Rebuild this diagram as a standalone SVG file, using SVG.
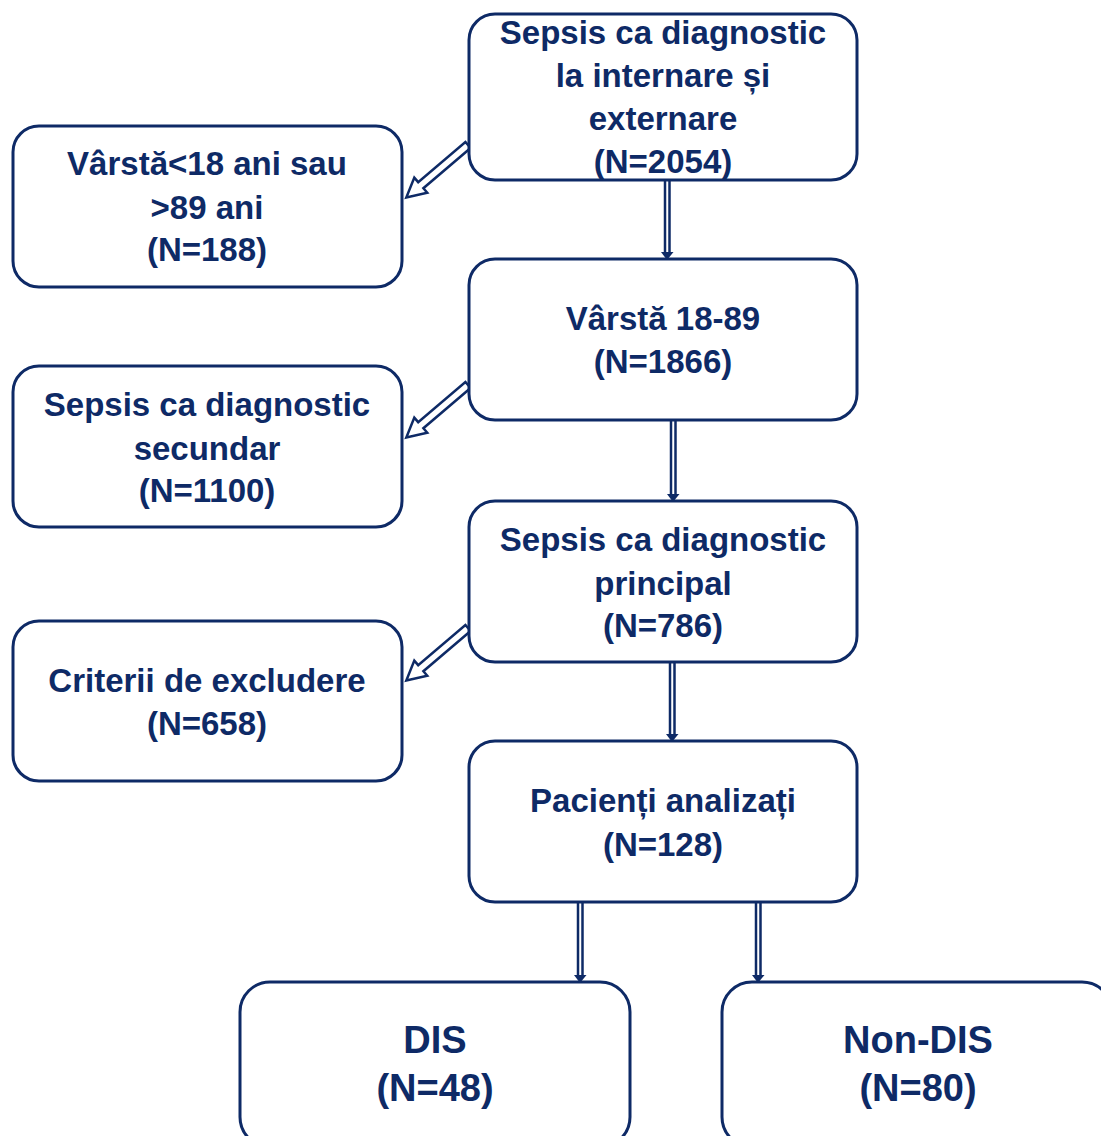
<svg xmlns="http://www.w3.org/2000/svg" width="1101" height="1136" viewBox="0 0 1101 1136">
<style>
.box{fill:#fff;stroke:#0e2a66;stroke-width:3}
.t{font-family:"Liberation Sans",Arial,sans-serif;font-weight:bold;font-size:33px;fill:#0e2a66;text-anchor:middle}
.tb{font-size:38px}
.dl{stroke:#0e2a66;stroke-width:2.5;fill:none}
.tip{fill:#0e2a66}
.ha{fill:#fff;stroke:#0e2a66;stroke-width:2.5;stroke-linejoin:miter}
</style>
<rect width="1101" height="1136" fill="#fff"/>
<g id="connectors">
  <g id="c1"><line class="dl" x1="665" y1="181" x2="665" y2="255"/><line class="dl" x1="669.5" y1="181" x2="669.5" y2="255"/><polygon class="tip" points="661,252 673.5,252 667,260"/></g>
  <g id="c2"><line class="dl" x1="671" y1="421" x2="671" y2="497"/><line class="dl" x1="675.5" y1="421" x2="675.5" y2="497"/><polygon class="tip" points="667,494 679.5,494 673,502"/></g>
  <g id="c3"><line class="dl" x1="670" y1="663" x2="670" y2="737"/><line class="dl" x1="674.5" y1="663" x2="674.5" y2="737"/><polygon class="tip" points="666,734 678.5,734 672,742"/></g>
  <g id="c4"><line class="dl" x1="578" y1="903" x2="578" y2="978"/><line class="dl" x1="582.5" y1="903" x2="582.5" y2="978"/><polygon class="tip" points="574,975 586.5,975 580,983"/></g>
  <g id="c5"><line class="dl" x1="756" y1="903" x2="756" y2="978"/><line class="dl" x1="760.5" y1="903" x2="760.5" y2="978"/><polygon class="tip" points="752,975 764.5,975 758,983"/></g>
  <polygon class="ha" transform="translate(468,145) rotate(139.6)" points="0,-4 62,-4 62,-10 81,0 62,10 62,4 0,4"/>
  <polygon class="ha" transform="translate(468,385) rotate(139.6)" points="0,-4 62,-4 62,-10 81,0 62,10 62,4 0,4"/>
  <polygon class="ha" transform="translate(468,628) rotate(139.6)" points="0,-4 62,-4 62,-10 81,0 62,10 62,4 0,4"/>
</g>
<g id="n1"><rect class="box" x="469" y="14" width="388" height="166" rx="26"/>
<text class="t" x="663" y="44">Sepsis ca diagnostic</text><text class="t" x="663" y="87">la internare și</text><text class="t" x="663" y="130">externare</text><text class="t" x="663" y="173">(N=2054)</text></g>
<g id="x1"><rect class="box" x="13" y="126" width="389" height="161" rx="26"/>
<text class="t" x="207" y="175">Vârstă&lt;18 ani sau</text><text class="t" x="207" y="219">&gt;89 ani</text><text class="t" x="207" y="261">(N=188)</text></g>
<g id="n2"><rect class="box" x="469" y="259" width="388" height="161" rx="26"/>
<text class="t" x="663" y="330">Vârstă 18-89</text><text class="t" x="663" y="373">(N=1866)</text></g>
<g id="x2"><rect class="box" x="13" y="366" width="389" height="161" rx="26"/>
<text class="t" x="207" y="416">Sepsis ca diagnostic</text><text class="t" x="207" y="460">secundar</text><text class="t" x="207" y="502">(N=1100)</text></g>
<g id="n3"><rect class="box" x="469" y="501" width="388" height="161" rx="26"/>
<text class="t" x="663" y="551">Sepsis ca diagnostic</text><text class="t" x="663" y="595">principal</text><text class="t" x="663" y="637">(N=786)</text></g>
<g id="x3"><rect class="box" x="13" y="621" width="389" height="160" rx="26"/>
<text class="t" x="207" y="692">Criterii de excludere</text><text class="t" x="207" y="735">(N=658)</text></g>
<g id="n4"><rect class="box" x="469" y="741" width="388" height="161" rx="26"/>
<text class="t" x="663" y="812">Pacienți analizați</text><text class="t" x="663" y="856">(N=128)</text></g>
<g id="n5"><rect class="box" x="240" y="982" width="390" height="165" rx="30"/>
<text class="t tb" x="435" y="1053">DIS</text><text class="t tb" x="435" y="1101">(N=48)</text></g>
<g id="n6"><rect class="box" x="722" y="982" width="390" height="165" rx="30"/>
<text class="t tb" x="918" y="1053">Non-DIS</text><text class="t tb" x="918" y="1101">(N=80)</text></g>
</svg>
